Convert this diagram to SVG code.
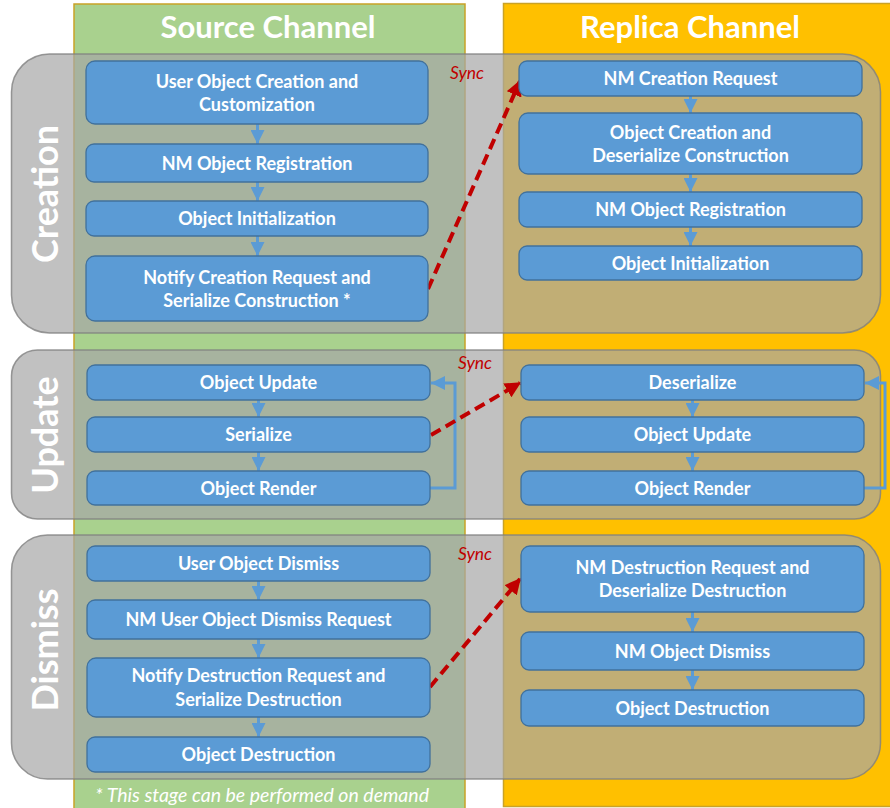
<svg xmlns="http://www.w3.org/2000/svg" width="890" height="808" viewBox="0 0 890 808">
  <style>
    .lane-src { fill: #A9D18E; stroke: #C9A227; stroke-width: 1.5; }
    .lane-rep { fill: #FFC000; stroke: #C9A227; stroke-width: 1.5; }
    .lane-title { font-family: Lato, "Open Sans", sans-serif; font-weight: 700; font-size: 31px; fill: #FFFFFF; text-anchor: middle; }
    .band { fill: #A6A6A6; fill-opacity: 0.7; stroke: #7F7F7F; stroke-width: 1.5; stroke-opacity: 0.8; }
    .stage { font-family: Lato, "Open Sans", sans-serif; font-weight: 700; font-size: 36px; fill: #FFFFFF; text-anchor: middle; }
    .box { fill: #5B9BD5; stroke: #41719C; stroke-width: 1.3; }
    .lbl { font-family: Lato, "Open Sans", sans-serif; font-weight: 700; font-size: 18px; fill: #FFFFFF; text-anchor: middle; }
    .flow { fill: none; stroke: #5B9BD5; stroke-width: 3; }
    .sync { fill: none; stroke: #C00000; stroke-width: 4; stroke-dasharray: 11 6; }
    .sync-lbl { font-family: Lato, "Open Sans", sans-serif; font-style: italic; font-size: 17.5px; fill: #C00000; }
    .note { font-family: Lato, "Open Sans", sans-serif; font-style: italic; font-size: 19.5px; fill: #FFFFFF; text-anchor: middle; }
  </style>
  <defs>
    <marker id="blueHead" markerUnits="userSpaceOnUse" markerWidth="14" markerHeight="14" viewBox="0 0 12 12" refX="12" refY="6" orient="auto">
      <path d="M0,0 L12,6 L0,12 Z" fill="#5B9BD5"/>
    </marker>
    <marker id="redHead" markerUnits="userSpaceOnUse" markerWidth="16" markerHeight="16" viewBox="0 0 12 12" refX="11" refY="6" orient="auto">
      <path d="M0,0 L12,6 L0,12 Z" fill="#C00000"/>
    </marker>
  </defs>

  <!-- channel lanes -->
  <g id="lane-source">
    <rect class="lane-src" x="74" y="4" width="391" height="806"/>
    <text class="lane-title" x="268" y="37.5">Source Channel</text>
  </g>
  <g id="lane-replica">
    <rect class="lane-rep" x="503.5" y="3.5" width="390" height="803"/>
    <text class="lane-title" x="690" y="37.5">Replica Channel</text>
  </g>

  <!-- stage bands -->
  <g id="stage-creation">
    <rect class="band" x="11.5" y="54" width="869" height="279" rx="38" ry="38"/>
    <text class="stage" transform="translate(58,194) rotate(-90)">Creation</text>
  </g>
  <g id="stage-update">
    <rect class="band" x="11.5" y="350" width="869" height="169" rx="26" ry="26"/>
    <text class="stage" transform="translate(58,435) rotate(-90)">Update</text>
  </g>
  <g id="stage-dismiss">
    <rect class="band" x="11.5" y="535" width="869" height="244" rx="36" ry="36"/>
    <text class="stage" transform="translate(58,650) rotate(-90)">Dismiss</text>
  </g>

  <!-- connectors -->
  <g id="connectors">
    <!-- creation, source side -->
    <path class="flow" d="M257.5,124 V144" marker-end="url(#blueHead)"/>
    <path class="flow" d="M257.5,182 V201" marker-end="url(#blueHead)"/>
    <path class="flow" d="M257.5,236 V256" marker-end="url(#blueHead)"/>
    <!-- creation, replica side -->
    <path class="flow" d="M690.5,96 V113" marker-end="url(#blueHead)"/>
    <path class="flow" d="M690.5,174 V192" marker-end="url(#blueHead)"/>
    <path class="flow" d="M690.5,227 V246" marker-end="url(#blueHead)"/>
    <!-- update, source side -->
    <path class="flow" d="M258.5,400 V417" marker-end="url(#blueHead)"/>
    <path class="flow" d="M258.5,452 V471" marker-end="url(#blueHead)"/>
    <path class="flow" d="M430,488 H455 V383 H431" marker-end="url(#blueHead)"/>
    <!-- update, replica side -->
    <path class="flow" d="M692.5,400 V417" marker-end="url(#blueHead)"/>
    <path class="flow" d="M692.5,452 V471" marker-end="url(#blueHead)"/>
    <path class="flow" d="M864,488 H885 V383 H865" marker-end="url(#blueHead)"/>
    <!-- dismiss, source side -->
    <path class="flow" d="M258.5,581 V600" marker-end="url(#blueHead)"/>
    <path class="flow" d="M258.5,639 V658" marker-end="url(#blueHead)"/>
    <path class="flow" d="M258.5,717 V737" marker-end="url(#blueHead)"/>
    <!-- dismiss, replica side -->
    <path class="flow" d="M692.5,612 V632" marker-end="url(#blueHead)"/>
    <path class="flow" d="M692.5,670 V690" marker-end="url(#blueHead)"/>

    <!-- sync links between channels -->
    <path class="sync" d="M428,289 L520,81" marker-end="url(#redHead)"/>
    <text class="sync-lbl" x="450" y="79">Sync</text>
    <path class="sync" d="M431,435 L520,383" marker-end="url(#redHead)"/>
    <text class="sync-lbl" x="458" y="369">Sync</text>
    <path class="sync" d="M430,687 L520,579" marker-end="url(#redHead)"/>
    <text class="sync-lbl" x="458" y="560">Sync</text>
  </g>

  <!-- creation nodes -->
  <g id="c-src-1">
    <rect class="box" x="86" y="61" width="342" height="63" rx="9"/>
    <text class="lbl" x="257" y="87.8">User Object Creation and</text>
    <text class="lbl" x="257" y="111.4">Customization</text>
  </g>
  <g id="c-src-2">
    <rect class="box" x="86" y="144" width="342" height="38" rx="8"/>
    <text class="lbl" x="257" y="169.5">NM Object Registration</text>
  </g>
  <g id="c-src-3">
    <rect class="box" x="86" y="201" width="342" height="35" rx="8"/>
    <text class="lbl" x="257" y="225">Object Initialization</text>
  </g>
  <g id="c-src-4">
    <rect class="box" x="86" y="256" width="342" height="65" rx="9"/>
    <text class="lbl" x="257" y="283.8">Notify Creation Request and</text>
    <text class="lbl" x="257" y="307.4">Serialize Construction *</text>
  </g>
  <g id="c-rep-1">
    <rect class="box" x="519" y="61" width="343" height="35" rx="8"/>
    <text class="lbl" x="690.5" y="85">NM Creation Request</text>
  </g>
  <g id="c-rep-2">
    <rect class="box" x="519" y="113" width="343" height="61" rx="9"/>
    <text class="lbl" x="690.5" y="138.8">Object Creation and</text>
    <text class="lbl" x="690.5" y="162.4">Deserialize Construction</text>
  </g>
  <g id="c-rep-3">
    <rect class="box" x="519" y="192" width="343" height="35" rx="8"/>
    <text class="lbl" x="690.5" y="216">NM Object Registration</text>
  </g>
  <g id="c-rep-4">
    <rect class="box" x="519" y="246" width="343" height="34" rx="8"/>
    <text class="lbl" x="690.5" y="269.5">Object Initialization</text>
  </g>

  <!-- update nodes -->
  <g id="u-src-1">
    <rect class="box" x="87" y="365" width="343" height="35" rx="8"/>
    <text class="lbl" x="258.5" y="389">Object Update</text>
  </g>
  <g id="u-src-2">
    <rect class="box" x="87" y="417" width="343" height="35" rx="8"/>
    <text class="lbl" x="258.5" y="441">Serialize</text>
  </g>
  <g id="u-src-3">
    <rect class="box" x="87" y="471" width="343" height="34" rx="8"/>
    <text class="lbl" x="258.5" y="494.5">Object Render</text>
  </g>
  <g id="u-rep-1">
    <rect class="box" x="521" y="365" width="343" height="35" rx="8"/>
    <text class="lbl" x="692.5" y="389">Deserialize</text>
  </g>
  <g id="u-rep-2">
    <rect class="box" x="521" y="417" width="343" height="35" rx="8"/>
    <text class="lbl" x="692.5" y="441">Object Update</text>
  </g>
  <g id="u-rep-3">
    <rect class="box" x="521" y="471" width="343" height="34" rx="8"/>
    <text class="lbl" x="692.5" y="494.5">Object Render</text>
  </g>

  <!-- dismiss nodes -->
  <g id="d-src-1">
    <rect class="box" x="87" y="546" width="343" height="35" rx="8"/>
    <text class="lbl" x="258.5" y="570">User Object Dismiss</text>
  </g>
  <g id="d-src-2">
    <rect class="box" x="87" y="600" width="343" height="39" rx="8"/>
    <text class="lbl" x="258.5" y="626">NM User Object Dismiss Request</text>
  </g>
  <g id="d-src-3">
    <rect class="box" x="87" y="658" width="343" height="59" rx="9"/>
    <text class="lbl" x="258.5" y="682.3">Notify Destruction Request and</text>
    <text class="lbl" x="258.5" y="705.9">Serialize Destruction</text>
  </g>
  <g id="d-src-4">
    <rect class="box" x="87" y="737" width="343" height="35" rx="8"/>
    <text class="lbl" x="258.5" y="761">Object Destruction</text>
  </g>
  <g id="d-rep-1">
    <rect class="box" x="521" y="546" width="343" height="66" rx="9"/>
    <text class="lbl" x="692.5" y="573.8">NM Destruction Request and</text>
    <text class="lbl" x="692.5" y="597.4">Deserialize Destruction</text>
  </g>
  <g id="d-rep-2">
    <rect class="box" x="521" y="632" width="343" height="38" rx="8"/>
    <text class="lbl" x="692.5" y="657.5">NM Object Dismiss</text>
  </g>
  <g id="d-rep-3">
    <rect class="box" x="521" y="690" width="343" height="36" rx="8"/>
    <text class="lbl" x="692.5" y="714.5">Object Destruction</text>
  </g>

  <!-- footnote -->
  <text class="note" x="262" y="802">* This stage can be performed on demand</text>
</svg>
